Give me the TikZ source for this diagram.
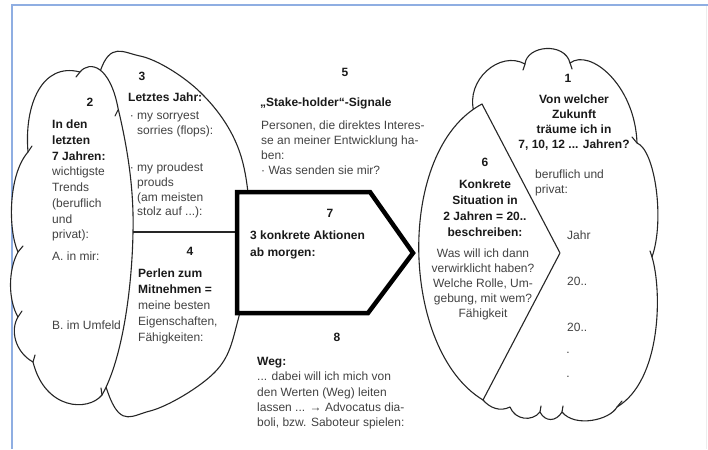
\documentclass[tikz,border=0pt]{standalone}
\usepackage{fontspec}
\setmainfont{Liberation Sans}
\usetikzlibrary{positioning}
\definecolor{frameblue}{RGB}{143,174,226}
\definecolor{bodygray}{RGB}{66,66,66}
\definecolor{headgray}{RGB}{26,26,26}
\newcommand{\hdl}[1]{\textcolor{headgray}{\textbf{#1}}}
\tikzset{
  bubble/.style={draw=black!85, line width=1.1pt, fill=white, line join=round},
  tickline/.style={draw=black!85, line width=1.1pt, line cap=round},
  body/.style={inner sep=0pt, text=bodygray, align=left, font=\fontsize{12}{15}\selectfont},
  head/.style={body, text=headgray, font=\bfseries\fontsize{12}{15}\selectfont},
  nr/.style={inner sep=0pt, text=headgray, font=\bfseries\fontsize{12}{15}\selectfont}
}

\begin{document}
\begin{tikzpicture}[x=1pt,y=-1pt]
            \useasboundingbox (0,0) rectangle (708,449);
            
            % Frame
            \draw[frameblue, line width=1.6pt] (708,5) -- (12,5) -- (12,449);
            \draw[black!7, line width=1pt] (706,6) -- (706,449);
            
            % Oval behind the left cloud
            \draw[bubble] plot[smooth cycle, tension=0.6] coordinates {(100,72) (140,56) (200,92) (240,153) (250,240) (238,320) (215,372) (150,411) (110,398) (80,240)};
            
            % Left cloud
            \draw[bubble] (80,72) .. controls (90,60) and (110,66) .. (118,108)
                .. controls (128,150) and (134,190) .. (133,232)
                .. controls (132,290) and (122,360) .. (102,395)
                .. controls (88,412) and (45,410) .. (33,362)
                .. controls (15,352) and (10,330) .. (18,317)
                .. controls (8,300) and (8,270) .. (18,252)
                .. controls (8,230) and (8,175) .. (28,152)
                .. controls (24,105) and (42,62) .. (80,72) -- cycle;
            \foreach \p/\q in {{80,72}/{76,77}, {118,110}/{115,116}, {28,152}/{32,146},
                {18,252}/{23,246}, {18,317}/{22,311}, {33,362}/{35,355}, {102,395}/{101,388}}
                \draw[tickline] (\p) -- (\q);
            
            % Divider 3/4
            \coordinate (div-l) at (133,232);
            \coordinate (div-r) at (240,232);
            \draw[line width=1.1pt, draw=black!85] (div-l) -- (div-r);
            
            % Arrow box
            \draw[line width=4.5pt, fill=white, line join=miter] (237,192) -- (370,192) -- (413,253) -- (368,313) -- (237,313) -- cycle;
            
            % Right cloud
            \draw[bubble] (474,112) .. controls (465,80) and (500,50) .. (525,64)
                .. controls (527,45) and (565,42) .. (570,63)
                .. controls (590,48) and (635,85) .. (637,143)
                .. controls (655,150) and (665,220) .. (652,257)
                .. controls (662,290) and (662,380) .. (617,407)
                .. controls (610,420) and (575,428) .. (562,412)
                .. controls (556,422) and (545,422) .. (540,412)
                .. controls (532,422) and (515,420) .. (510,407)
                .. controls (500,412) and (490,408) .. (483,400) -- cycle;
            \foreach \p/\q in {{525,64}/{523,70}, {570,63}/{572,69}, {637,143}/{632,137},
                {652,257}/{650,251}, {617,407}/{622,401}, {562,412}/{563,406}, {540,412}/{541,406}}
                \draw[tickline] (\p) -- (\q);
            
            % Leaf 6
            \draw[bubble] (482,104) -- (560,253) -- (483,400) .. controls (400,350) and (395,150) .. (482,104) -- cycle;
            
            % Labels
            \node[nr] (n2) at (90,102) {2};
            \node[body, anchor=north west, font=\fontsize{12}{15.7}\selectfont] (t2) at (52,120) {\hdl{In den}\\\hdl{letzten}\\\hdl{7 Jahren:}\\wichtigste\\Trends\\(beruflich\\und\\privat):};
            \node[body, anchor=north west] (t2a) at (52,252) {A. in mir:};
            \node[body, anchor=north west] (t2b) at (52,321) {B. im Umfeld};
            
            \node[nr] (n3) at (142,76) {3};
            \node[head, anchor=north west] (t3) at (128,93) {Letztes Jahr:};
            \node[body, anchor=north west] (t3a) at (137,112) {\llap{·\ }my sorryest\\sorries (flops):};
            \node[body, anchor=north west, font=\fontsize{12}{14.7}\selectfont] (t3b) at (137,163) {\llap{·\ }my proudest\\prouds\\(am meisten\\stolz auf ...):};
            
            \node[nr] (n4) at (190,251) {4};
            \node[body, anchor=north west, font=\fontsize{12}{16}\selectfont] (t4) at (138,269) {\hdl{Perlen zum}\\\hdl{Mitnehmen =}\\meine besten\\Eigenschaften,\\Fähigkeiten:};
            
            \node[nr] (n5) at (345,72) {5};
            \node[head, anchor=north west] (t5) at (260,98) {„Stake-holder“-Signale};
            \node[body, anchor=north west] (t5a) at (261,121) {Personen, die direktes Interes-\\se an meiner Entwicklung ha-\\ben:\\· Was senden sie mir?};
            
            \node[nr] (n7) at (330,213) {7};
            \node[head, anchor=north west, font=\bfseries\fontsize{12}{17}\selectfont] (t7) at (250,231) {3 konkrete Aktionen\\ab morgen:};
            
            \node[nr] (n8) at (337,337) {8};
            \node[body, anchor=north west, font=\fontsize{12}{15.3}\selectfont] (t8) at (257,357) {\hdl{Weg:}\\... dabei will ich mich von\\den Werten (Weg) leiten\\lassen ... → Advocatus dia-\\boli, bzw. Saboteur spielen:};
            
            \node[nr] (n6) at (485,162) {6};
            \node[head, align=center, anchor=north, font=\bfseries\fontsize{12}{16}\selectfont] (t6) at (485,180) {Konkrete\\Situation in\\2 Jahren = 20..\\beschreiben:};
            \node[body, align=center, anchor=north] (t6a) at (483,249) {Was will ich dann\\verwirklicht haben?\\Welche Rolle, Um-\\gebung, mit wem?\\Fähigkeit};
            
            \node[nr] (n1) at (568,78) {1};
            \node[head, align=center, anchor=north, font=\bfseries\fontsize{12}{14.8}\selectfont] (t1) at (574,95) {Von welcher\\Zukunft\\träume ich in\\7, 10, 12 ... Jahren?};
            \node[body, anchor=north west] (t1a) at (535,170) {beruflich und\\privat:};
            \node[body, anchor=north west] (y1) at (567,231) {Jahr};
            \node[body, anchor=north west] (y2) at (567,277) {20..};
            \node[body, anchor=north west] (y3) at (567,323) {20..};
            \node[body] (d1) at (568,353) {.};
            \node[body] (d2) at (568,377) {.};
        \end{tikzpicture}
\end{document}
